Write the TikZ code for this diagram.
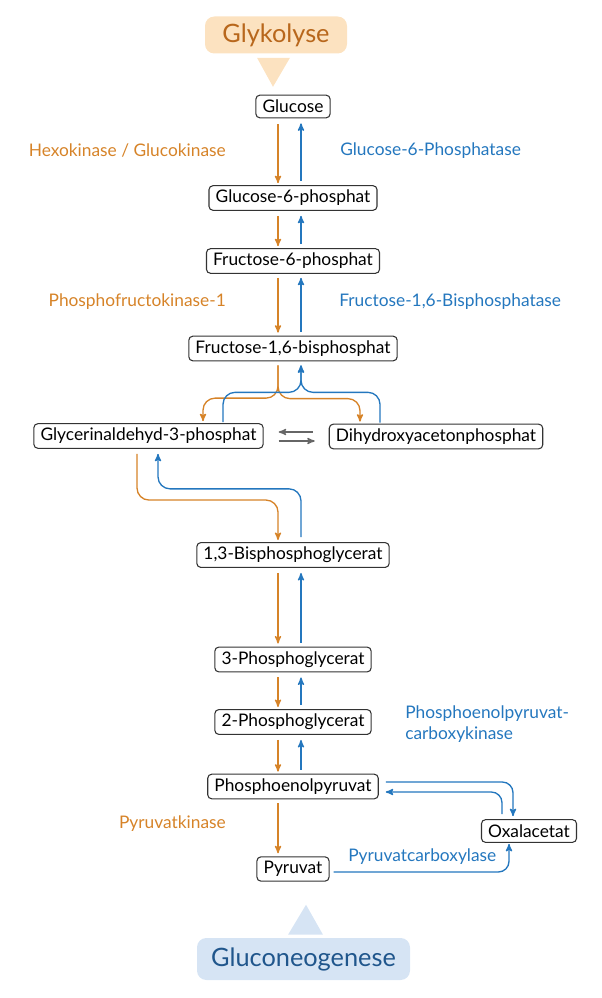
\documentclass[tikz,border=0pt]{standalone}
\usepackage{fontspec}
\setmainfont{Lato}
\usetikzlibrary{arrows}
\definecolor{glykorange}{RGB}{214,131,40}
\definecolor{glyktext}{RGB}{184,103,28}
\definecolor{glykfill}{RGB}{252,226,192}
\definecolor{gngblue}{RGB}{36,119,190}
\definecolor{gngtext}{RGB}{32,86,140}
\definecolor{gngfill}{RGB}{214,228,244}

\begin{document}
\begin{tikzpicture}[x=0.75pt,y=-0.75pt,>=stealth',font=\fontsize{13}{15.75}\selectfont]
  \tikzstyle{stoff}=[draw=black!80,line width=0.8pt,rounded corners=3pt,
                     fill=white,inner xsep=5pt,minimum height=17pt]
  \tikzstyle{glyk}=[->,line width=1pt,draw=glykorange]
  \tikzstyle{gng}=[->,line width=1pt,draw=gngblue]
  \tikzstyle{iso}=[->,line width=1pt,draw=black!60]
  \tikzstyle{enzym glyk}=[text=glykorange,anchor=east,inner sep=0pt]
  \tikzstyle{enzym gng}=[text=gngblue,anchor=west,inner sep=0pt]
  \tikzstyle{titel}=[rounded corners=7pt,font=\fontsize{19}{23}\selectfont]
  \useasboundingbox (0,0) rectangle (602,998);
  % Richtungen
  \node [titel,fill=glykfill,text=glyktext,minimum width=106.5pt,minimum height=27.75pt]
    (glykolyse) at (276,35) {Glykolyse};
  \fill [glykfill] ([shift={(-19,4)}]glykolyse.south) -- ([shift={(14,4)}]glykolyse.south)
    -- ([shift={(-3,33)}]glykolyse.south) -- cycle;
  \node [titel,fill=gngfill,text=gngtext,minimum width=159.75pt,minimum height=31.5pt]
    (gluconeo) at (303.5,959) {Gluconeogenese};
  \fill [gngfill] ([shift={(-15.5,-3)}]gluconeo.north) -- ([shift={(19.5,-3)}]gluconeo.north)
    -- ([shift={(2.5,-33)}]gluconeo.north) -- cycle;
  % Stoffe
  \node [stoff] (glc) at (293,106.5) {Glucose};
  \node [stoff] (g6p) at (293,198) {Glucose-6-phosphat};
  \node [stoff] (f6p) at (293,261) {Fructose-6-phosphat};
  \node [stoff] (fbp) at (293,348.5) {Fructose-1,6-bisphosphat};
  \node [stoff] (gap) at (148.5,436) {Glycerinaldehyd-3-phosphat};
  \node [stoff] (dhap) at (436,436.5) {Dihydroxyacetonphosphat};
  \node [stoff] (bpg) at (293,555) {1,3-Bisphosphoglycerat};
  \node [stoff] (pg3) at (293,659.5) {3-Phosphoglycerat};
  \node [stoff] (pg2) at (293,722) {2-Phosphoglycerat};
  \node [stoff] (pep) at (293,786.5) {Phosphoenolpyruvat};
  \node [stoff] (pyr) at (293,869) {Pyruvat};
  \node [stoff] (oaa) at (529,831) {Oxalacetat};
  % Enzyme
  \node [enzym glyk] (hk) at (226,151) {Hexokinase / Glucokinase};
  \node [enzym gng] (g6pase) at (340,151) {Glucose-6-Phosphatase};
  \node [enzym glyk] (pfk) at (226,302) {Phosphofructokinase-1};
  \node [enzym gng] (fbpase) at (339,302) {Fructose-1,6-Bisphosphatase};
  \node [enzym gng,align=left] (pepck) at (405,724.5) {Phosphoenolpyruvat-\\carboxykinase};
  \node [enzym glyk] (pk) at (226,824) {Pyruvatkinase};
  \node [enzym gng] (pc) at (348,857) {Pyruvatcarboxylase};
  % Glykolyse
  \draw [glyk] ([shift={(-15,6)}]glc.south) -- ([shift={(-15,-2)}]g6p.north);
  \draw [glyk] ([shift={(-15,5)}]g6p.south) -- ([shift={(-15,-2)}]f6p.north);
  \draw [glyk] ([shift={(-15,4)}]f6p.south) -- ([shift={(-15,-3)}]fbp.north);
  \draw [glyk,rounded corners=9pt] ([shift={(-15,4)}]fbp.south)
    |- ([shift={(54.5,-25)}]gap.north) -- ([shift={(54.5,-2)}]gap.north);
  \draw [glyk,rounded corners=9pt] ([shift={(-15,4)}]fbp.south)
    |- ([shift={(-76,-25)}]dhap.north) -- ([shift={(-76,-2)}]dhap.north);
  \draw [glyk,rounded corners=9pt] ([shift={(-11.5,5)}]gap.south)
    |- ([shift={(-15,-42)}]bpg.north) -- ([shift={(-15,-2)}]bpg.north);
  \draw [glyk] ([shift={(-15,5)}]bpg.south) -- ([shift={(-15,-3)}]pg3.north);
  \draw [glyk] ([shift={(-15,5)}]pg3.south) -- ([shift={(-15,-2)}]pg2.north);
  \draw [glyk] ([shift={(-15,5)}]pg2.south) -- ([shift={(-15,-2)}]pep.north);
  \draw [glyk] ([shift={(-15,4)}]pep.south) -- ([shift={(-15,-3)}]pyr.north);
  % Gluconeogenese
  \draw [gng] ([shift={(8,-4)}]g6p.north) -- ([shift={(8,5)}]glc.south);
  \draw [gng] ([shift={(8,-4)}]f6p.north) -- ([shift={(8,5)}]g6p.south);
  \draw [gng] ([shift={(8,-4)}]fbp.north) -- ([shift={(8,4)}]f6p.south);
  \draw [gng,rounded corners=9pt] ([shift={(74.5,-1)}]gap.north)
    |- ([shift={(8,31)}]fbp.south) -- ([shift={(8,4)}]fbp.south);
  \draw [gng,rounded corners=9pt] ([shift={(-56,-1)}]dhap.north)
    |- ([shift={(8,31)}]fbp.south) -- ([shift={(8,4)}]fbp.south);
  \draw [gng,rounded corners=9pt] ([shift={(8,-5)}]bpg.north)
    |- ([shift={(9.5,40)}]gap.south) -- ([shift={(9.5,5)}]gap.south);
  \draw [gng] ([shift={(8,-4)}]pg3.north) -- ([shift={(8,5)}]bpg.south);
  \draw [gng] ([shift={(8,-4)}]pg2.north) -- ([shift={(8,5)}]pg3.south);
  \draw [gng] ([shift={(8,-4)}]pep.north) -- ([shift={(8,5)}]pg2.south);
  \draw [gng,rounded corners=8pt] ([shift={(7,-4.5)}]pep.east)
    -| ([shift={(-16,-3)}]oaa.north);
  \draw [gng,rounded corners=8pt] ([shift={(-27,-5)}]oaa.north)
    |- ([shift={(7,5.5)}]pep.east);
  \draw [gng,rounded corners=8pt] ([shift={(4,3)}]pyr.east)
    -| ([shift={(-20,1)}]oaa.south);
  % Isomerase
  \draw [iso] ([shift={(-16,-4.5)}]dhap.west) -- ([shift={(15,-4)}]gap.east);
  \draw [iso] ([shift={(15,5)}]gap.east) -- ([shift={(-14,4.5)}]dhap.west);
\end{tikzpicture}
\end{document}
